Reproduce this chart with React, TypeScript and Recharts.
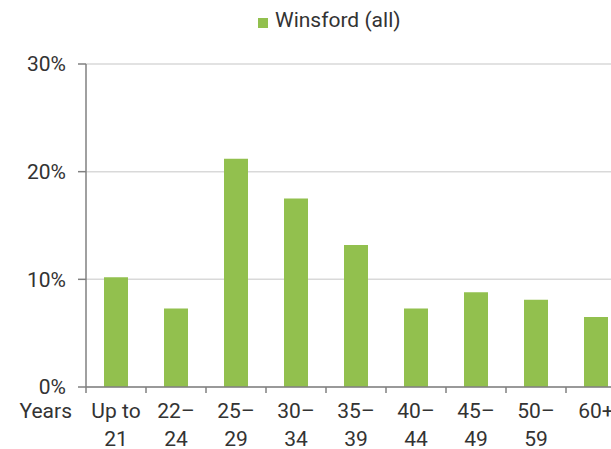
import { Bar, BarChart, CartesianGrid, Legend, XAxis, YAxis } from 'recharts'

const categories = ['Up to|21', '22–|24', '25–|29', '30–|34', '35–|39', '40–|44', '45–|49', '50–|59', '60+|']
const winsford = [10.2, 7.3, 21.2, 17.5, 13.2, 7.3, 8.8, 8.1, 6.5]
const yTicks = [0, 10, 20, 30]

const data = categories.map((c, i) => ({ age: c, winsford: winsford[i] }))

const GREEN = '#92c04e'
const TEXT = '#333333'
const AXIS = '#808080'

function AgeTick(props: any) {
  const { x, y, payload, index } = props
  const [l1, l2] = String(payload.value).split('|')
  return (
    <g>
      <line x1={x - 30} y1={y} x2={x - 30} y2={y + 6} stroke={AXIS} strokeWidth={1.5} />
      {index === 0 && (
        <text x={x - 44} y={y + 31} textAnchor="end" fill={TEXT} fontSize={21}>
          Years
        </text>
      )}
      <text x={x} y={y + 31} textAnchor="middle" fill={TEXT} fontSize={21}>
        {l1}
      </text>
      {l2 && (
        <text x={x} y={y + 59} textAnchor="middle" fill={TEXT} fontSize={21}>
          {l2}
        </text>
      )}
    </g>
  )
}

function LegendBox() {
  return (
    <div style={{ position: 'relative', height: 40, fontFamily: 'Roboto', color: TEXT }}>
      <div style={{ position: 'absolute', left: 258, top: 18, width: 10, height: 10, background: GREEN }} />
      <div style={{ position: 'absolute', left: 275, top: 10, fontSize: 21, lineHeight: '21px', whiteSpace: 'nowrap' }}>
        Winsford (all)
      </div>
    </div>
  )
}

export default function App() {
  return (
    <div
      style={{
        position: 'fixed',
        left: 0,
        top: 0,
        width: 611,
        height: 449,
        overflow: 'hidden',
        background: '#fff',
        fontFamily: 'Roboto',
      }}
    >
      <BarChart
        width={640}
        height={449}
        data={data}
        margin={{ top: 64, right: 14, left: 0, bottom: 0 }}
        barSize={24}
        style={{ fontFamily: 'Roboto' }}
      >
        <CartesianGrid vertical={false} stroke="#d9d9d9" strokeWidth={1.5} />
        <XAxis
          dataKey="age"
          height={62}
          interval={0}
          tickSize={0}
          tickMargin={0}
          tickLine={false}
          axisLine={{ stroke: AXIS, strokeWidth: 1.5 }}
          tick={<AgeTick />}
        />
        <YAxis
          width={86}
          domain={[0, 30]}
          ticks={yTicks}
          tickFormatter={(v) => `${v}%`}
          tickSize={8}
          tickMargin={12}
          tick={{ fontSize: 21, fill: TEXT }}
          axisLine={{ stroke: AXIS, strokeWidth: 1.5 }}
          tickLine={{ stroke: AXIS, strokeWidth: 1.5 }}
        />
        <Legend
          layout="horizontal"
          verticalAlign="middle"
          wrapperStyle={{ top: 0, left: 0, width: 611 }}
          content={<LegendBox />}
        />
        <Bar dataKey="winsford" name="Winsford (all)" fill={GREEN} isAnimationActive={false} />
      </BarChart>
    </div>
  )
}
